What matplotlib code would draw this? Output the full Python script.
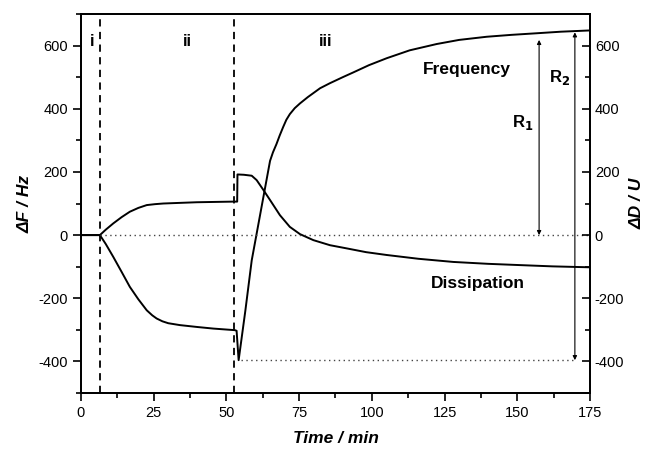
import matplotlib
matplotlib.use("Agg")
import matplotlib.pyplot as plt
from matplotlib.ticker import MultipleLocator

plt.rcParams['font.family'] = ['Liberation Sans', 'DejaVu Sans']
plt.rcParams['axes.unicode_minus'] = False

# Frequency curve (min, Hz)
freq_t = [0, 6.5, 8.5, 11.1, 14, 16.8, 19.7, 22.6, 24.5, 26, 28, 30, 34, 40, 45.5, 52.9,
          53.5, 54.2, 56.5, 58.7, 62.9, 65, 66, 67.2, 68.3, 69.5, 70.6, 71.8, 73.5, 75.3,
          78, 82.2, 85.6, 90, 93.6, 99, 105.1, 113, 122.3, 130, 139.5, 148, 156.6, 165, 175]
freq_v = [0, 0, -28, -69, -117, -164, -203, -238, -254, -264, -273, -279, -285, -291, -296, -301,
          -303, -396, -240, -80, 130, 235, 262, 288, 315, 342, 365, 383, 402, 417,
          437, 465, 481, 500, 515, 538, 560, 585, 605, 618, 628, 634, 639, 644, 648]

# Dissipation curve (min, U)
diss_t = [0, 6.5, 8.5, 11.1, 14, 16.8, 19.7, 22.6, 25.5, 28.3, 34, 39.8, 46, 52.4, 53.7,
          53.8, 56, 58.7, 60.4, 62.7, 65, 68.4, 71.8, 75.3, 79.9, 85.6, 91.3, 98, 105.1,
          116, 128, 140, 150.9, 162, 175]
diss_v = [0, 0, 17, 37, 57, 74, 86, 95, 98, 100, 102, 104, 105, 106, 106,
          192, 191, 188, 174, 143, 111, 63, 26, 3, -16, -32, -42, -54, -63,
          -75, -85, -91, -95, -99, -102]

phase_bounds = [6.6, 52.7]
phase_labels = ['i', 'ii', 'iii']
phase_label_t = [3.8, 36.7, 84]

r1_t, r1_lo, r1_hi = 157.5, 0, 618
r2_t, r2_lo, r2_hi = 169.8, -396, 642

fig = plt.figure(figsize=(6.51, 4.49), dpi=100)
ax = fig.add_axes([0.1244, 0.1247, 0.7819, 0.8441])

ax.plot(freq_t, freq_v, color='black', lw=1.4)
ax.plot(diss_t, diss_v, color='black', lw=1.4)

for b in phase_bounds:
    ax.axvline(b, color='black', lw=1.3, ls=(0, (4, 3)))

# dotted reference levels
ax.plot([6.5, 175], [0, 0], color='#444444', lw=1.0, ls=(0, (1, 2.5)))
ax.plot([55, r2_t], [r2_lo, r2_lo], color='#444444', lw=1.0, ls=(0, (1, 2.5)))

# R1 / R2 arrows
for t, lo, hi in [(r1_t, r1_lo, r1_hi), (r2_t, r2_lo, r2_hi)]:
    ax.annotate('', xy=(t, hi), xytext=(t, lo),
                arrowprops=dict(arrowstyle='<|-|>', color='black', lw=0.8,
                                mutation_scale=6, shrinkA=0, shrinkB=0))

ax.text(152, 355, r'R$_\mathbf{1}$', fontsize=12, fontweight='bold', ha='center', va='center')
ax.text(164.7, 498, r'R$_\mathbf{2}$', fontsize=12, fontweight='bold', ha='center', va='center')
ax.text(132.6, 523, 'Frequency', fontsize=12.5, fontweight='bold', ha='center', va='center')
ax.text(136.5, -153, 'Dissipation', fontsize=12.5, fontweight='bold', ha='center', va='center')

for lab, t in zip(phase_labels, phase_label_t):
    ax.text(t, 613, lab, fontsize=12, fontweight='bold', ha='center', va='center')

ax.set_xlim(0, 175)
ax.set_ylim(-500, 700)
ax.xaxis.set_major_locator(MultipleLocator(25))
ax.xaxis.set_minor_locator(MultipleLocator(12.5))
ax.set_yticks(range(-400, 601, 200))
ax.yaxis.set_minor_locator(MultipleLocator(100))
ax.tick_params(axis='both', which='major', direction='out', length=6, width=1.2, labelsize=10.5)
ax.tick_params(axis='both', which='minor', direction='out', length=3.5, width=1.2)
ax.tick_params(top=False, right=False, which='both')

ax2 = ax.twinx()
ax2.set_ylim(-500, 700)
ax2.set_yticks(range(-400, 601, 200))
ax2.yaxis.set_minor_locator(MultipleLocator(100))
ax2.tick_params(axis='y', which='major', direction='in', length=6, width=1.2, labelsize=10.5)
ax2.tick_params(axis='y', which='minor', direction='in', length=3.5, width=1.2)

for a in (ax, ax2):
    for s in a.spines.values():
        s.set_linewidth(1.3)

ax.set_xlabel('Time / min', fontsize=12.5, fontweight='bold', style='italic', labelpad=8)
ax.set_ylabel('ΔF / Hz', fontsize=12.5, fontweight='bold', style='italic', labelpad=4)
ax2.set_ylabel('ΔD / U', fontsize=12.5, fontweight='bold', style='italic', labelpad=4)

fig.savefig('out.png', dpi=100)
